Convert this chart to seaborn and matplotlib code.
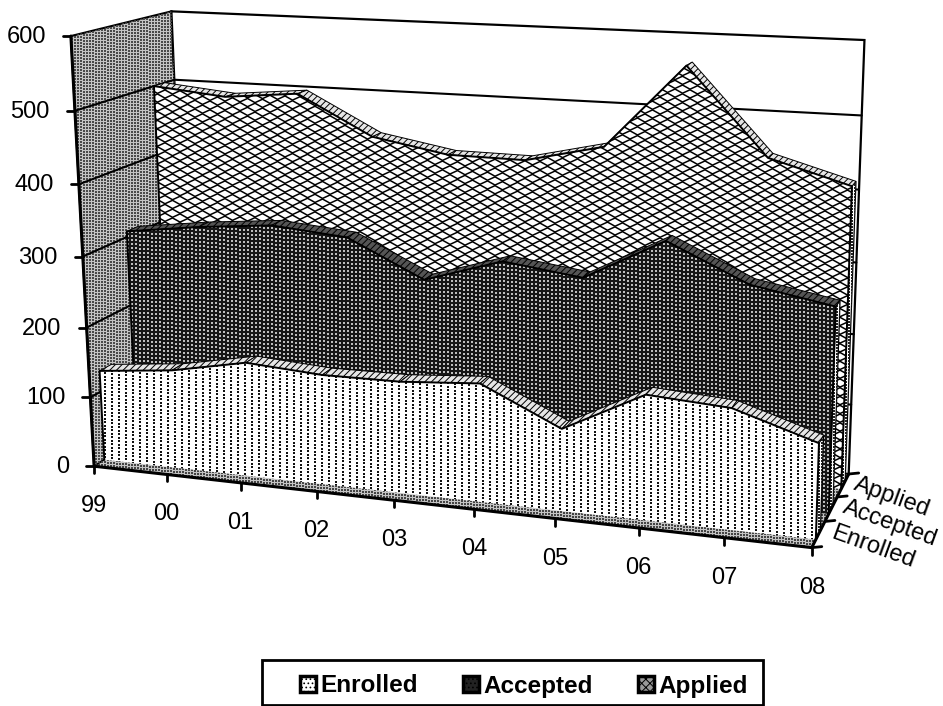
import numpy as np
import pandas as pd
import seaborn as sns
import matplotlib.pyplot as plt
from matplotlib.collections import LineCollection
from matplotlib.patches import Patch, Rectangle

# values
years = ['99', '00', '01', '02', '03', '04', '05', '06', '07', '08']
series_names = ['Enrolled', 'Accepted', 'Applied']
enrolled = [130, 141, 162, 155, 156, 164, 113, 170, 163, 128]
accepted = [308, 322, 332, 323, 272, 306, 292, 350, 300, 280]
applied = [500, 490, 500, 445, 426, 425, 450, 565, 448, 417]
y_ticks = [0, 100, 200, 300, 400, 500, 600]

sns.set_theme(style='white')
plt.rcParams['font.family'] = ['Liberation Sans', 'DejaVu Sans']
plt.rcParams['hatch.linewidth'] = 0.7

# camera fit: (year index, value, depth) -> pixel, from axis ticks and box corners
world = [(0, 0, 0), (0, 100, 0), (0, 200, 0), (0, 300, 0), (0, 400, 0), (0, 500, 0), (0, 600, 0),
         (1, 0, 0), (2, 0, 0), (3, 0, 0), (4, 0, 0), (5, 0, 0), (6, 0, 0), (7, 0, 0), (8, 0, 0), (9, 0, 0),
         (9, 0, 1), (9, 0, 2), (9, 0, 3), (0, 600, 3), (9, 600, 3), (0, 500, 3), (9, 500, 3)]
pixels = [(94, 466), (90, 398), (86, 328), (82, 257), (78, 184), (75, 110), (72, 37),
          (167, 474), (241, 482), (318, 491), (395, 500), (473, 510), (555, 519), (638, 528), (724, 538), (812, 548),
          (825, 520), (838, 497), (848, 475), (171, 11), (865, 40), (175, 80), (861, 115)]
rows = []
for (a, b, c), (u, v) in zip(world, pixels):
    p = [a, b / 100, c, 1]
    u, v = u / 100, v / 100
    rows.append(p + [0, 0, 0, 0] + [-u * q for q in p])
    rows.append([0, 0, 0, 0] + p + [-v * q for q in p])
cam = np.linalg.svd(np.array(rows))[2][-1].reshape(3, 4)


def project(i, val, d):
    i, val, d = np.broadcast_arrays(np.asarray(i, float), np.asarray(val, float), np.asarray(d, float))
    h = cam @ np.stack([i, val / 100, d, np.ones_like(i)])
    return h[0] / h[2] * 100, h[1] / h[2] * 100


fig, ax = plt.subplots(figsize=(9.43, 7.06), dpi=100)
fig.subplots_adjust(0, 0, 1, 1)


def quad(pts, z, **kw):
    xs, ys = zip(*[project(*p) for p in pts])
    return ax.fill(xs, ys, zorder=z, **kw)[0]


def dots(patch, z, dx, dy, color, size):
    gx, gy = np.meshgrid(np.arange(0, 943, dx), np.arange(0, 706, dy))
    sc = ax.scatter(gx.ravel(), gy.ravel() + 0.09 * gx.ravel() % dy, s=size, c=color, marker='s', linewidths=0, zorder=z)
    sc.set_clip_path(patch)


def mesh(patch, z):
    lines = []
    xs = np.arange(0, 960, 7.5)
    for r in range(-20, 180):
        sign = (-1.0) ** (np.arange(len(xs)) + r)
        lines.append(np.column_stack([xs, r * 4.4 + 1.9 * sign + 0.05 * xs]))
    lc = LineCollection(lines, colors='black', linewidths=1.1, zorder=z)
    ax.add_collection(lc)
    lc.set_clip_path(patch)


# walls and floor
left_wall = quad([(0, 0, 0), (0, 600, 0), (0, 600, 3), (0, 0, 3)], 1, facecolor='#c4c4c4', edgecolor='black', lw=1.5)
dots(left_wall, 1.1, 3, 3, '#4a4a4a', 1.4)
quad([(0, 0, 3), (0, 600, 3), (9, 600, 3), (9, 0, 3)], 1, facecolor='white', edgecolor='black', lw=1.6)
floor = quad([(0, 0, 0), (9, 0, 0), (9, 0, 3), (0, 0, 3)], 1, facecolor='#c4c4c4', edgecolor='black', lw=1.0)
dots(floor, 1.1, 3, 3, '#444444', 1.4)

for t in y_ticks[1:-1]:
    xs, ys = project([0, 0, 9], [t, t, t], [0, 3, 3])
    ax.plot(xs, ys, color='black', lw=1.5, zorder=2)

# areas, back to front
all_values = [enrolled, accepted, applied]
fronts = [0.3, 1.3, 2.34]
strip_colors = ['#e6e6e6', '#555555', '#e6e6e6']
thick = 0.35
idx = np.arange(10)
for k in [2, 1, 0]:
    vals = np.array(all_values[k], float)
    d0, d1 = fronts[k], fronts[k] + thick
    z = 10 * (3 - k)
    side = quad([(9, 0, d0), (9, vals[9], d0), (9, vals[9], d1), (9, 0, d1)], z, facecolor='white', edgecolor='black', lw=0.9)
    dots(side, z + 0.1, 3, 3, '#222222', 1.4)
    for i in range(9):
        quad([(i, vals[i], d0), (i + 1, vals[i + 1], d0), (i + 1, vals[i + 1], d1), (i, vals[i], d1)], z + 1,
             facecolor=strip_colors[k], edgecolor='black', lw=0.7, hatch='/////')
    front_pts = [(0, 0, d0)] + [(i, vals[i], d0) for i in idx] + [(9, 0, d0)]
    if k == 2:
        face = quad(front_pts, z + 2, facecolor='white', edgecolor='none')
        mesh(face, z + 2.1)
    elif k == 1:
        face = quad(front_pts, z + 2, facecolor='#161616', edgecolor='none')
        dots(face, z + 2.1, 4, 4, '#bdbdbd', 1.5)
    else:
        face = quad(front_pts, z + 2, facecolor='white', edgecolor='none')
        dots(face, z + 2.1, 7, 3.5, '#111111', 1.9)
    sx, sy = project(np.r_[0, idx, 9], np.r_[0, vals, 0], d0)
    outline = pd.DataFrame({'sx': sx, 'sy': sy})
    sns.lineplot(data=outline, x='sx', y='sy', sort=False, estimator=None, color='black', lw=1.4, zorder=z + 3, ax=ax)

# axis lines and ticks
zt = 50
xs, ys = project([0, 0], [0, 600], [0, 0])
ax.plot(xs, ys, color='black', lw=2.2, zorder=zt)
xs, ys = project([0, 9, 9], [0, 0, 0], [0, 0, 3])
ax.plot(xs, ys, color='black', lw=2.2, zorder=zt)
for t in y_ticks:
    x, y = project(0, t, 0)
    ax.plot([x - 8, x], [y, y], color='black', lw=2, zorder=zt)
    ax.text(x - 25, y + 1, str(t), ha='right', va='center', fontsize=17, color='black')
for i, lab in enumerate(years):
    x, y = project(i, 0, 0)
    ax.plot([x, x], [y, y + 7], color='black', lw=2, zorder=zt)
    ax.text(x, y + 40, lab, ha='center', va='center', fontsize=17, color='black')
for d in range(4):
    x, y = project(9, 0, d)
    ax.plot([x, x + 10], [y, y - 1], color='black', lw=2, zorder=zt)
label_dx = [61, 65, 55]
label_dy = [0, 2, 0]
for d, lab in enumerate(series_names):
    x, y = project(9, 0, d)
    ax.text(x + label_dx[d], y + label_dy[d], lab, ha='center', va='center', rotation=-20, rotation_mode='anchor',
            fontsize=17, color='black')

# legend
handles = [Patch(facecolor='white', edgecolor='black', lw=2.5, hatch='....'),
           Patch(facecolor='#222222', edgecolor='black', lw=2.5, hatch='....'),
           Patch(facecolor='#999999', edgecolor='black', lw=2.5, hatch='xxxx')]
ax.add_patch(Rectangle((262, 660), 501, 45, facecolor='white', edgecolor='black', lw=2, zorder=60))
leg = ax.legend(handles, series_names, ncol=3, frameon=False, loc='center', bbox_to_anchor=(524 / 943, 1 - 686 / 706),
                bbox_transform=fig.transFigure, prop={'weight': 'bold', 'size': 17.5}, handlelength=0.65, handleheight=0.65,
                handletextpad=0.2, columnspacing=1.85, labelcolor='black')
leg.set_zorder(61)

ax.set_xlim(0, 943)
ax.set_ylim(706, 0)
ax.axis('off')
fig.savefig('out.png', dpi=100)
